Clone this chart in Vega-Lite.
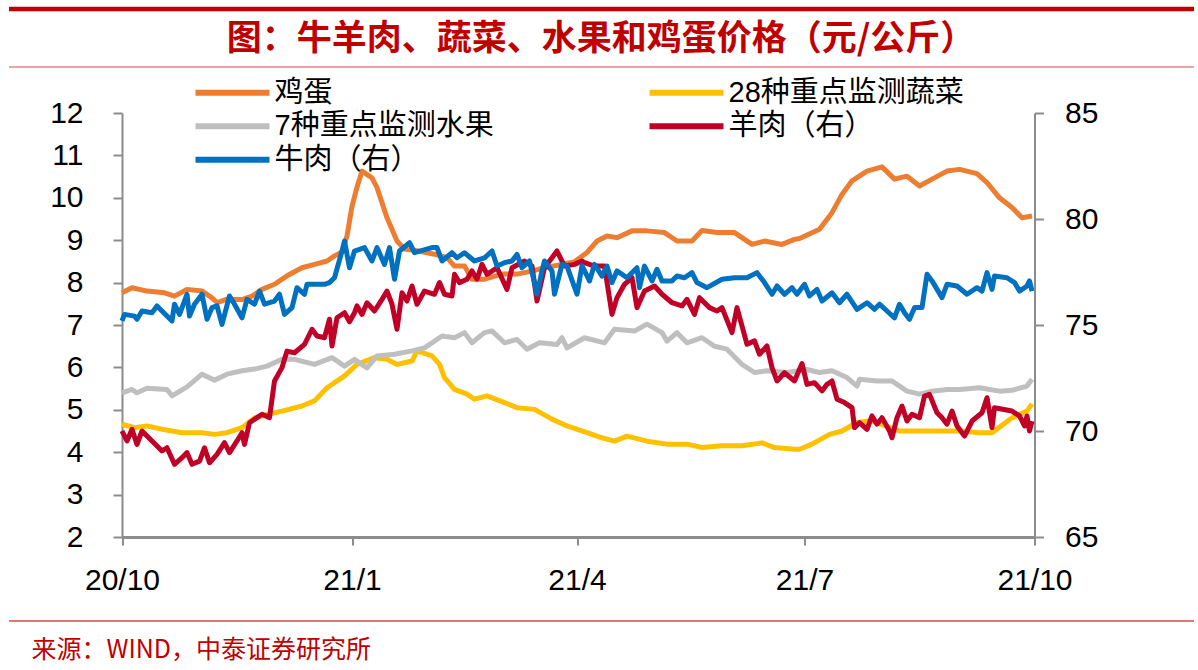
{
  "$schema": "https://vega.github.io/schema/vega-lite/v6.json",
  "padding": {"left": 8.5, "top": 8.5, "right": 0, "bottom": 12},
  "background": "#ffffff",
  "bounds": "flush",
  "spacing": 46.5,
  "resolve": {"scale": {"color": "independent"}},
  "datasets": {
    "left": [
      {"s": "egg", "d": "2020-10-01", "v": 7.76}, {"s": "egg", "d": "2020-10-05", "v": 7.88}, {"s": "egg", "d": "2020-10-11", "v": 7.80},
      {"s": "egg", "d": "2020-10-18", "v": 7.76}, {"s": "egg", "d": "2020-10-22", "v": 7.68}, {"s": "egg", "d": "2020-10-27", "v": 7.84},
      {"s": "egg", "d": "2020-11-02", "v": 7.80}, {"s": "egg", "d": "2020-11-06", "v": 7.64}, {"s": "egg", "d": "2020-11-08", "v": 7.53},
      {"s": "egg", "d": "2020-11-12", "v": 7.61}, {"s": "egg", "d": "2020-11-18", "v": 7.60}, {"s": "egg", "d": "2020-11-22", "v": 7.68},
      {"s": "egg", "d": "2020-11-26", "v": 7.84}, {"s": "egg", "d": "2020-12-01", "v": 7.96}, {"s": "egg", "d": "2020-12-06", "v": 8.16},
      {"s": "egg", "d": "2020-12-12", "v": 8.35}, {"s": "egg", "d": "2020-12-17", "v": 8.43}, {"s": "egg", "d": "2020-12-22", "v": 8.51},
      {"s": "egg", "d": "2020-12-25", "v": 8.63}, {"s": "egg", "d": "2020-12-28", "v": 8.72}, {"s": "egg", "d": "2020-12-30", "v": 9.10},
      {"s": "egg", "d": "2021-01-01", "v": 9.80}, {"s": "egg", "d": "2021-01-03", "v": 10.25}, {"s": "egg", "d": "2021-01-05", "v": 10.63},
      {"s": "egg", "d": "2021-01-09", "v": 10.47}, {"s": "egg", "d": "2021-01-11", "v": 10.24}, {"s": "egg", "d": "2021-01-15", "v": 9.53},
      {"s": "egg", "d": "2021-01-19", "v": 8.98}, {"s": "egg", "d": "2021-01-22", "v": 8.79}, {"s": "egg", "d": "2021-01-27", "v": 8.75},
      {"s": "egg", "d": "2021-02-03", "v": 8.67}, {"s": "egg", "d": "2021-02-08", "v": 8.59}, {"s": "egg", "d": "2021-02-11", "v": 8.39},
      {"s": "egg", "d": "2021-02-15", "v": 8.39}, {"s": "egg", "d": "2021-02-18", "v": 8.08}, {"s": "egg", "d": "2021-02-23", "v": 8.08},
      {"s": "egg", "d": "2021-03-02", "v": 8.20}, {"s": "egg", "d": "2021-03-08", "v": 8.20}, {"s": "egg", "d": "2021-03-14", "v": 8.27},
      {"s": "egg", "d": "2021-03-19", "v": 8.35}, {"s": "egg", "d": "2021-03-26", "v": 8.43}, {"s": "egg", "d": "2021-03-31", "v": 8.49},
      {"s": "egg", "d": "2021-04-05", "v": 8.71}, {"s": "egg", "d": "2021-04-09", "v": 8.98}, {"s": "egg", "d": "2021-04-13", "v": 9.10},
      {"s": "egg", "d": "2021-04-17", "v": 9.06}, {"s": "egg", "d": "2021-04-23", "v": 9.22}, {"s": "egg", "d": "2021-04-29", "v": 9.22},
      {"s": "egg", "d": "2021-05-06", "v": 9.18}, {"s": "egg", "d": "2021-05-11", "v": 8.98}, {"s": "egg", "d": "2021-05-17", "v": 8.98},
      {"s": "egg", "d": "2021-05-21", "v": 9.23}, {"s": "egg", "d": "2021-05-27", "v": 9.18}, {"s": "egg", "d": "2021-06-03", "v": 9.18},
      {"s": "egg", "d": "2021-06-10", "v": 8.90}, {"s": "egg", "d": "2021-06-15", "v": 8.98}, {"s": "egg", "d": "2021-06-22", "v": 8.90},
      {"s": "egg", "d": "2021-06-27", "v": 9.02}, {"s": "egg", "d": "2021-06-29", "v": 9.04}, {"s": "egg", "d": "2021-07-07", "v": 9.26},
      {"s": "egg", "d": "2021-07-12", "v": 9.65}, {"s": "egg", "d": "2021-07-16", "v": 10.08}, {"s": "egg", "d": "2021-07-20", "v": 10.40},
      {"s": "egg", "d": "2021-07-26", "v": 10.63}, {"s": "egg", "d": "2021-08-01", "v": 10.73}, {"s": "egg", "d": "2021-08-06", "v": 10.44},
      {"s": "egg", "d": "2021-08-11", "v": 10.51}, {"s": "egg", "d": "2021-08-16", "v": 10.28}, {"s": "egg", "d": "2021-08-21", "v": 10.44},
      {"s": "egg", "d": "2021-08-27", "v": 10.63}, {"s": "egg", "d": "2021-09-01", "v": 10.67}, {"s": "egg", "d": "2021-09-08", "v": 10.57},
      {"s": "egg", "d": "2021-09-12", "v": 10.36}, {"s": "egg", "d": "2021-09-17", "v": 10.00}, {"s": "egg", "d": "2021-09-22", "v": 9.77},
      {"s": "egg", "d": "2021-09-26", "v": 9.53}, {"s": "egg", "d": "2021-09-30", "v": 9.57},

      {"s": "veg", "d": "2020-10-01", "v": 4.66}, {"s": "veg", "d": "2020-10-06", "v": 4.58}, {"s": "veg", "d": "2020-10-11", "v": 4.62},
      {"s": "veg", "d": "2020-10-17", "v": 4.54}, {"s": "veg", "d": "2020-10-25", "v": 4.46}, {"s": "veg", "d": "2020-11-02", "v": 4.46},
      {"s": "veg", "d": "2020-11-07", "v": 4.42}, {"s": "veg", "d": "2020-11-12", "v": 4.46}, {"s": "veg", "d": "2020-11-18", "v": 4.58},
      {"s": "veg", "d": "2020-11-23", "v": 4.81}, {"s": "veg", "d": "2020-11-28", "v": 4.89}, {"s": "veg", "d": "2020-12-04", "v": 4.97},
      {"s": "veg", "d": "2020-12-12", "v": 5.09}, {"s": "veg", "d": "2020-12-17", "v": 5.21}, {"s": "veg", "d": "2020-12-22", "v": 5.52},
      {"s": "veg", "d": "2020-12-29", "v": 5.80}, {"s": "veg", "d": "2021-01-03", "v": 6.07}, {"s": "veg", "d": "2021-01-10", "v": 6.23},
      {"s": "veg", "d": "2021-01-15", "v": 6.19}, {"s": "veg", "d": "2021-01-19", "v": 6.07}, {"s": "veg", "d": "2021-01-25", "v": 6.15},
      {"s": "veg", "d": "2021-01-27", "v": 6.39}, {"s": "veg", "d": "2021-02-02", "v": 6.27}, {"s": "veg", "d": "2021-02-05", "v": 6.07},
      {"s": "veg", "d": "2021-02-07", "v": 5.76}, {"s": "veg", "d": "2021-02-11", "v": 5.48}, {"s": "veg", "d": "2021-02-16", "v": 5.37},
      {"s": "veg", "d": "2021-02-19", "v": 5.25}, {"s": "veg", "d": "2021-02-24", "v": 5.33}, {"s": "veg", "d": "2021-03-03", "v": 5.17},
      {"s": "veg", "d": "2021-03-08", "v": 5.05}, {"s": "veg", "d": "2021-03-15", "v": 5.01}, {"s": "veg", "d": "2021-03-22", "v": 4.78},
      {"s": "veg", "d": "2021-03-28", "v": 4.62}, {"s": "veg", "d": "2021-04-05", "v": 4.46}, {"s": "veg", "d": "2021-04-11", "v": 4.34},
      {"s": "veg", "d": "2021-04-16", "v": 4.26}, {"s": "veg", "d": "2021-04-21", "v": 4.38}, {"s": "veg", "d": "2021-04-29", "v": 4.26},
      {"s": "veg", "d": "2021-05-07", "v": 4.19}, {"s": "veg", "d": "2021-05-15", "v": 4.19}, {"s": "veg", "d": "2021-05-21", "v": 4.11},
      {"s": "veg", "d": "2021-05-29", "v": 4.15}, {"s": "veg", "d": "2021-06-06", "v": 4.15}, {"s": "veg", "d": "2021-06-14", "v": 4.22},
      {"s": "veg", "d": "2021-06-19", "v": 4.11}, {"s": "veg", "d": "2021-06-27", "v": 4.07}, {"s": "veg", "d": "2021-06-29", "v": 4.07},
      {"s": "veg", "d": "2021-07-04", "v": 4.19}, {"s": "veg", "d": "2021-07-11", "v": 4.42}, {"s": "veg", "d": "2021-07-16", "v": 4.50},
      {"s": "veg", "d": "2021-07-22", "v": 4.70}, {"s": "veg", "d": "2021-07-28", "v": 4.74}, {"s": "veg", "d": "2021-08-08", "v": 4.50},
      {"s": "veg", "d": "2021-08-19", "v": 4.50}, {"s": "veg", "d": "2021-09-01", "v": 4.50}, {"s": "veg", "d": "2021-09-09", "v": 4.46},
      {"s": "veg", "d": "2021-09-14", "v": 4.46}, {"s": "veg", "d": "2021-09-22", "v": 4.81}, {"s": "veg", "d": "2021-09-28", "v": 4.97},
      {"s": "veg", "d": "2021-09-30", "v": 5.14},

      {"s": "fruit", "d": "2020-10-01", "v": 5.40}, {"s": "fruit", "d": "2020-10-05", "v": 5.48}, {"s": "fruit", "d": "2020-10-07", "v": 5.40},
      {"s": "fruit", "d": "2020-10-11", "v": 5.51}, {"s": "fruit", "d": "2020-10-19", "v": 5.48}, {"s": "fruit", "d": "2020-10-21", "v": 5.33},
      {"s": "fruit", "d": "2020-10-27", "v": 5.54}, {"s": "fruit", "d": "2020-11-02", "v": 5.84}, {"s": "fruit", "d": "2020-11-07", "v": 5.70},
      {"s": "fruit", "d": "2020-11-12", "v": 5.84}, {"s": "fruit", "d": "2020-11-18", "v": 5.92}, {"s": "fruit", "d": "2020-11-23", "v": 5.96},
      {"s": "fruit", "d": "2020-11-28", "v": 6.03}, {"s": "fruit", "d": "2020-12-04", "v": 6.19}, {"s": "fruit", "d": "2020-12-09", "v": 6.19},
      {"s": "fruit", "d": "2020-12-17", "v": 6.07}, {"s": "fruit", "d": "2020-12-24", "v": 6.23}, {"s": "fruit", "d": "2020-12-29", "v": 6.03},
      {"s": "fruit", "d": "2021-01-02", "v": 6.19}, {"s": "fruit", "d": "2021-01-07", "v": 5.99}, {"s": "fruit", "d": "2021-01-11", "v": 6.27},
      {"s": "fruit", "d": "2021-01-18", "v": 6.31}, {"s": "fruit", "d": "2021-01-25", "v": 6.39}, {"s": "fruit", "d": "2021-01-30", "v": 6.46},
      {"s": "fruit", "d": "2021-02-06", "v": 6.74}, {"s": "fruit", "d": "2021-02-11", "v": 6.70}, {"s": "fruit", "d": "2021-02-15", "v": 6.82},
      {"s": "fruit", "d": "2021-02-18", "v": 6.58}, {"s": "fruit", "d": "2021-02-23", "v": 6.82}, {"s": "fruit", "d": "2021-02-26", "v": 6.86},
      {"s": "fruit", "d": "2021-03-03", "v": 6.58}, {"s": "fruit", "d": "2021-03-08", "v": 6.66}, {"s": "fruit", "d": "2021-03-12", "v": 6.43},
      {"s": "fruit", "d": "2021-03-17", "v": 6.58}, {"s": "fruit", "d": "2021-03-24", "v": 6.54}, {"s": "fruit", "d": "2021-03-26", "v": 6.70},
      {"s": "fruit", "d": "2021-03-28", "v": 6.46}, {"s": "fruit", "d": "2021-04-04", "v": 6.70}, {"s": "fruit", "d": "2021-04-12", "v": 6.58},
      {"s": "fruit", "d": "2021-04-16", "v": 6.90}, {"s": "fruit", "d": "2021-04-24", "v": 6.86}, {"s": "fruit", "d": "2021-04-29", "v": 7.02},
      {"s": "fruit", "d": "2021-05-05", "v": 6.82}, {"s": "fruit", "d": "2021-05-07", "v": 6.62}, {"s": "fruit", "d": "2021-05-11", "v": 6.82},
      {"s": "fruit", "d": "2021-05-15", "v": 6.58}, {"s": "fruit", "d": "2021-05-21", "v": 6.70}, {"s": "fruit", "d": "2021-05-26", "v": 6.50},
      {"s": "fruit", "d": "2021-05-31", "v": 6.43}, {"s": "fruit", "d": "2021-06-06", "v": 6.07}, {"s": "fruit", "d": "2021-06-11", "v": 5.88},
      {"s": "fruit", "d": "2021-06-16", "v": 5.92}, {"s": "fruit", "d": "2021-06-24", "v": 5.88}, {"s": "fruit", "d": "2021-07-02", "v": 5.95},
      {"s": "fruit", "d": "2021-07-07", "v": 5.88}, {"s": "fruit", "d": "2021-07-12", "v": 5.92}, {"s": "fruit", "d": "2021-07-18", "v": 5.76},
      {"s": "fruit", "d": "2021-07-22", "v": 5.56}, {"s": "fruit", "d": "2021-07-23", "v": 5.72}, {"s": "fruit", "d": "2021-07-30", "v": 5.68},
      {"s": "fruit", "d": "2021-08-05", "v": 5.68}, {"s": "fruit", "d": "2021-08-11", "v": 5.44}, {"s": "fruit", "d": "2021-08-16", "v": 5.37},
      {"s": "fruit", "d": "2021-08-21", "v": 5.44}, {"s": "fruit", "d": "2021-08-27", "v": 5.48}, {"s": "fruit", "d": "2021-09-01", "v": 5.48},
      {"s": "fruit", "d": "2021-09-09", "v": 5.52}, {"s": "fruit", "d": "2021-09-17", "v": 5.44}, {"s": "fruit", "d": "2021-09-22", "v": 5.46},
      {"s": "fruit", "d": "2021-09-28", "v": 5.56}, {"s": "fruit", "d": "2021-09-30", "v": 5.72}
    ],
    "mutton": [
      {"d": "2020-10-01", "v": 70.00}, {"d": "2020-10-03", "v": 69.53}, {"d": "2020-10-05", "v": 70.08}, {"d": "2020-10-07", "v": 69.37},
      {"d": "2020-10-09", "v": 70.00}, {"d": "2020-10-13", "v": 69.53}, {"d": "2020-10-17", "v": 69.06}, {"d": "2020-10-19", "v": 69.21},
      {"d": "2020-10-22", "v": 68.43}, {"d": "2020-10-25", "v": 68.74}, {"d": "2020-10-27", "v": 68.98}, {"d": "2020-10-29", "v": 68.43},
      {"d": "2020-11-01", "v": 68.58}, {"d": "2020-11-03", "v": 69.21}, {"d": "2020-11-05", "v": 68.50}, {"d": "2020-11-08", "v": 68.90},
      {"d": "2020-11-11", "v": 69.45}, {"d": "2020-11-13", "v": 68.98}, {"d": "2020-11-16", "v": 69.53}, {"d": "2020-11-18", "v": 69.92},
      {"d": "2020-11-19", "v": 69.37}, {"d": "2020-11-21", "v": 70.39}, {"d": "2020-11-24", "v": 70.63}, {"d": "2020-11-26", "v": 70.79},
      {"d": "2020-11-29", "v": 70.63}, {"d": "2020-12-01", "v": 72.36}, {"d": "2020-12-04", "v": 72.99}, {"d": "2020-12-06", "v": 73.77},
      {"d": "2020-12-09", "v": 73.69}, {"d": "2020-12-13", "v": 74.09}, {"d": "2020-12-16", "v": 74.80}, {"d": "2020-12-18", "v": 74.48},
      {"d": "2020-12-21", "v": 74.40}, {"d": "2020-12-23", "v": 75.27}, {"d": "2020-12-24", "v": 74.01}, {"d": "2020-12-26", "v": 75.34},
      {"d": "2020-12-29", "v": 75.58}, {"d": "2020-12-31", "v": 75.15}, {"d": "2021-01-02", "v": 75.58}, {"d": "2021-01-03", "v": 75.90},
      {"d": "2021-01-05", "v": 75.50}, {"d": "2021-01-07", "v": 76.05}, {"d": "2021-01-10", "v": 75.66}, {"d": "2021-01-13", "v": 76.21},
      {"d": "2021-01-15", "v": 76.60}, {"d": "2021-01-17", "v": 75.98}, {"d": "2021-01-19", "v": 74.80}, {"d": "2021-01-21", "v": 76.52},
      {"d": "2021-01-23", "v": 76.13}, {"d": "2021-01-25", "v": 76.84}, {"d": "2021-01-27", "v": 75.98}, {"d": "2021-01-30", "v": 76.60},
      {"d": "2021-02-03", "v": 76.45}, {"d": "2021-02-05", "v": 77.00}, {"d": "2021-02-07", "v": 76.45}, {"d": "2021-02-10", "v": 76.37},
      {"d": "2021-02-11", "v": 77.39}, {"d": "2021-02-13", "v": 77.00}, {"d": "2021-02-16", "v": 77.16}, {"d": "2021-02-18", "v": 77.55},
      {"d": "2021-02-20", "v": 77.16}, {"d": "2021-02-22", "v": 77.86}, {"d": "2021-02-24", "v": 77.39}, {"d": "2021-02-28", "v": 77.70},
      {"d": "2021-03-04", "v": 76.68}, {"d": "2021-03-06", "v": 77.70}, {"d": "2021-03-11", "v": 78.02}, {"d": "2021-03-14", "v": 77.78},
      {"d": "2021-03-16", "v": 76.13}, {"d": "2021-03-19", "v": 77.70}, {"d": "2021-03-24", "v": 78.49}, {"d": "2021-03-27", "v": 77.78},
      {"d": "2021-03-31", "v": 77.86}, {"d": "2021-04-03", "v": 78.02}, {"d": "2021-04-04", "v": 77.94}, {"d": "2021-04-08", "v": 77.78},
      {"d": "2021-04-12", "v": 77.78}, {"d": "2021-04-15", "v": 75.50}, {"d": "2021-04-17", "v": 76.29}, {"d": "2021-04-20", "v": 76.92},
      {"d": "2021-04-23", "v": 77.23}, {"d": "2021-04-25", "v": 75.82}, {"d": "2021-04-28", "v": 76.60}, {"d": "2021-05-02", "v": 76.84},
      {"d": "2021-05-05", "v": 76.45}, {"d": "2021-05-09", "v": 76.05}, {"d": "2021-05-13", "v": 75.90}, {"d": "2021-05-15", "v": 76.21},
      {"d": "2021-05-18", "v": 75.50}, {"d": "2021-05-20", "v": 76.29}, {"d": "2021-05-24", "v": 75.82}, {"d": "2021-05-27", "v": 75.66},
      {"d": "2021-05-29", "v": 75.82}, {"d": "2021-06-02", "v": 74.64}, {"d": "2021-06-04", "v": 75.82}, {"d": "2021-06-08", "v": 74.09},
      {"d": "2021-06-11", "v": 74.25}, {"d": "2021-06-13", "v": 73.62}, {"d": "2021-06-16", "v": 74.01}, {"d": "2021-06-18", "v": 72.99},
      {"d": "2021-06-20", "v": 72.36}, {"d": "2021-06-23", "v": 72.75}, {"d": "2021-06-27", "v": 72.36}, {"d": "2021-06-30", "v": 73.18},
      {"d": "2021-07-02", "v": 72.20}, {"d": "2021-07-05", "v": 72.28}, {"d": "2021-07-08", "v": 71.89}, {"d": "2021-07-10", "v": 72.20},
      {"d": "2021-07-12", "v": 72.36}, {"d": "2021-07-14", "v": 71.50}, {"d": "2021-07-17", "v": 71.34}, {"d": "2021-07-20", "v": 71.10},
      {"d": "2021-07-21", "v": 70.16}, {"d": "2021-07-23", "v": 70.39}, {"d": "2021-07-26", "v": 70.08}, {"d": "2021-07-28", "v": 70.71},
      {"d": "2021-07-30", "v": 70.32}, {"d": "2021-08-01", "v": 70.63}, {"d": "2021-08-04", "v": 70.00}, {"d": "2021-08-05", "v": 69.68},
      {"d": "2021-08-07", "v": 70.63}, {"d": "2021-08-09", "v": 71.18}, {"d": "2021-08-11", "v": 70.47}, {"d": "2021-08-13", "v": 70.79},
      {"d": "2021-08-16", "v": 70.63}, {"d": "2021-08-18", "v": 71.65}, {"d": "2021-08-20", "v": 71.73}, {"d": "2021-08-23", "v": 70.86},
      {"d": "2021-08-25", "v": 70.63}, {"d": "2021-08-27", "v": 70.32}, {"d": "2021-08-29", "v": 70.94}, {"d": "2021-08-31", "v": 70.24},
      {"d": "2021-09-03", "v": 69.76}, {"d": "2021-09-06", "v": 70.47}, {"d": "2021-09-10", "v": 70.86}, {"d": "2021-09-12", "v": 71.57},
      {"d": "2021-09-14", "v": 70.16}, {"d": "2021-09-15", "v": 71.10}, {"d": "2021-09-22", "v": 70.94}, {"d": "2021-09-25", "v": 70.71},
      {"d": "2021-09-27", "v": 70.24}, {"d": "2021-09-28", "v": 70.71}, {"d": "2021-09-29", "v": 70.00}, {"d": "2021-09-30", "v": 70.47}
    ],
    "beef": [
      {"d": "2020-10-01", "v": 75.19}, {"d": "2020-10-02", "v": 75.50}, {"d": "2020-10-06", "v": 75.42}, {"d": "2020-10-07", "v": 75.27},
      {"d": "2020-10-09", "v": 75.66}, {"d": "2020-10-13", "v": 75.58}, {"d": "2020-10-15", "v": 75.90}, {"d": "2020-10-17", "v": 75.66},
      {"d": "2020-10-21", "v": 75.19}, {"d": "2020-10-22", "v": 75.98}, {"d": "2020-10-24", "v": 75.50}, {"d": "2020-10-27", "v": 76.45},
      {"d": "2020-10-28", "v": 75.42}, {"d": "2020-10-30", "v": 75.98}, {"d": "2020-11-02", "v": 76.45}, {"d": "2020-11-04", "v": 75.27},
      {"d": "2020-11-06", "v": 75.82}, {"d": "2020-11-08", "v": 75.90}, {"d": "2020-11-10", "v": 75.03}, {"d": "2020-11-13", "v": 76.37},
      {"d": "2020-11-15", "v": 75.98}, {"d": "2020-11-18", "v": 75.34}, {"d": "2020-11-20", "v": 76.21}, {"d": "2020-11-23", "v": 75.98},
      {"d": "2020-11-25", "v": 76.60}, {"d": "2020-11-27", "v": 75.98}, {"d": "2020-12-01", "v": 76.13}, {"d": "2020-12-03", "v": 76.45},
      {"d": "2020-12-05", "v": 75.50}, {"d": "2020-12-08", "v": 75.82}, {"d": "2020-12-10", "v": 76.76}, {"d": "2020-12-13", "v": 76.45},
      {"d": "2020-12-14", "v": 76.92}, {"d": "2020-12-21", "v": 76.92}, {"d": "2020-12-23", "v": 77.00}, {"d": "2020-12-25", "v": 77.23},
      {"d": "2020-12-28", "v": 78.49}, {"d": "2020-12-29", "v": 78.96}, {"d": "2020-12-31", "v": 77.70}, {"d": "2021-01-02", "v": 78.49},
      {"d": "2021-01-06", "v": 78.65}, {"d": "2021-01-09", "v": 78.02}, {"d": "2021-01-11", "v": 78.65}, {"d": "2021-01-14", "v": 77.86},
      {"d": "2021-01-16", "v": 78.65}, {"d": "2021-01-18", "v": 77.16}, {"d": "2021-01-20", "v": 78.49}, {"d": "2021-01-24", "v": 78.88},
      {"d": "2021-01-26", "v": 78.41}, {"d": "2021-02-02", "v": 78.65}, {"d": "2021-02-04", "v": 78.65}, {"d": "2021-02-06", "v": 78.02},
      {"d": "2021-02-10", "v": 78.41}, {"d": "2021-02-12", "v": 78.17}, {"d": "2021-02-15", "v": 78.41}, {"d": "2021-02-19", "v": 78.02},
      {"d": "2021-02-23", "v": 78.17}, {"d": "2021-02-26", "v": 78.49}, {"d": "2021-02-28", "v": 77.78}, {"d": "2021-03-03", "v": 77.94},
      {"d": "2021-03-06", "v": 78.02}, {"d": "2021-03-08", "v": 78.33}, {"d": "2021-03-10", "v": 77.70}, {"d": "2021-03-13", "v": 78.02},
      {"d": "2021-03-16", "v": 76.45}, {"d": "2021-03-18", "v": 77.55}, {"d": "2021-03-19", "v": 78.02}, {"d": "2021-03-22", "v": 77.55},
      {"d": "2021-03-23", "v": 76.45}, {"d": "2021-03-26", "v": 77.86}, {"d": "2021-03-28", "v": 77.78}, {"d": "2021-04-01", "v": 76.45},
      {"d": "2021-04-03", "v": 77.80}, {"d": "2021-04-06", "v": 77.08}, {"d": "2021-04-08", "v": 77.86}, {"d": "2021-04-11", "v": 77.31},
      {"d": "2021-04-13", "v": 77.78}, {"d": "2021-04-15", "v": 77.00}, {"d": "2021-04-17", "v": 77.55}, {"d": "2021-04-21", "v": 77.23},
      {"d": "2021-04-25", "v": 77.70}, {"d": "2021-04-26", "v": 76.76}, {"d": "2021-04-28", "v": 77.78}, {"d": "2021-05-01", "v": 77.08},
      {"d": "2021-05-03", "v": 77.63}, {"d": "2021-05-05", "v": 77.08}, {"d": "2021-05-09", "v": 77.08}, {"d": "2021-05-11", "v": 77.31},
      {"d": "2021-05-14", "v": 77.23}, {"d": "2021-05-17", "v": 77.47}, {"d": "2021-05-19", "v": 77.00}, {"d": "2021-05-23", "v": 76.76},
      {"d": "2021-05-29", "v": 77.16}, {"d": "2021-06-03", "v": 77.23}, {"d": "2021-06-08", "v": 77.23}, {"d": "2021-06-12", "v": 77.47},
      {"d": "2021-06-15", "v": 77.00}, {"d": "2021-06-18", "v": 76.45}, {"d": "2021-06-20", "v": 76.84}, {"d": "2021-06-23", "v": 76.45},
      {"d": "2021-06-26", "v": 76.76}, {"d": "2021-06-28", "v": 76.45}, {"d": "2021-07-01", "v": 76.92}, {"d": "2021-07-03", "v": 76.37},
      {"d": "2021-07-06", "v": 76.68}, {"d": "2021-07-08", "v": 76.13}, {"d": "2021-07-12", "v": 76.52}, {"d": "2021-07-15", "v": 76.05},
      {"d": "2021-07-18", "v": 76.45}, {"d": "2021-07-22", "v": 75.74}, {"d": "2021-07-26", "v": 76.05}, {"d": "2021-07-29", "v": 75.74},
      {"d": "2021-07-31", "v": 75.98}, {"d": "2021-08-03", "v": 75.66}, {"d": "2021-08-06", "v": 75.34}, {"d": "2021-08-08", "v": 75.98},
      {"d": "2021-08-10", "v": 75.58}, {"d": "2021-08-12", "v": 75.27}, {"d": "2021-08-14", "v": 75.82}, {"d": "2021-08-17", "v": 75.82},
      {"d": "2021-08-19", "v": 77.39}, {"d": "2021-08-21", "v": 77.08}, {"d": "2021-08-25", "v": 76.29}, {"d": "2021-08-27", "v": 76.92},
      {"d": "2021-08-31", "v": 76.84}, {"d": "2021-09-04", "v": 76.45}, {"d": "2021-09-08", "v": 76.76}, {"d": "2021-09-10", "v": 76.60},
      {"d": "2021-09-12", "v": 77.47}, {"d": "2021-09-14", "v": 76.68}, {"d": "2021-09-15", "v": 77.31}, {"d": "2021-09-20", "v": 77.23},
      {"d": "2021-09-23", "v": 77.00}, {"d": "2021-09-25", "v": 76.60}, {"d": "2021-09-28", "v": 76.84}, {"d": "2021-09-29", "v": 77.08},
      {"d": "2021-09-30", "v": 76.60}
    ]
  },
  "vconcat": [
    {
      "width": 1185,
      "height": 58,
      "data": {"values": [{"t": "图：牛羊肉、蔬菜、水果和鸡蛋价格（元/公斤）"}]},
      "mark": {"type": "text", "font": "Noto Sans CJK SC", "fontSize": 35, "fontWeight": "bold", "color": "#C00000", "dx": 0, "dy": 1.5},
      "encoding": {
        "text": {"field": "t"},
        "x": {"datum": 0.5, "type": "quantitative", "scale": {"domain": [0, 1]}, "axis": null},
        "y": {"datum": 0.5, "type": "quantitative", "scale": {"domain": [0, 1]},
              "axis": {"values": [0, 1], "grid": true, "domain": false, "ticks": false, "labels": false, "title": null,
                       "gridColor": {"condition": {"test": "datum.value == 1", "value": "#C00000"}, "value": "#EBA3A3"},
                       "gridWidth": {"condition": {"test": "datum.value == 1", "value": 4.5}, "value": 2}}}
      }
    },
    {
      "width": 1026,
      "height": 424,
      "layer": [
        {
          "data": {"name": "left"},
          "mark": {"type": "line", "strokeWidth": 5, "strokeJoin": "round"},
          "encoding": {
            "x": {"field": "d", "type": "temporal",
                  "scale": {"type": "utc", "domain": [{"year": 2020, "month": 10, "date": 1, "utc": true}, {"year": 2021, "month": 10, "date": 1, "utc": true}], "range": [113.5, 1026]},
                  "axis": {"orient": "bottom", "format": "%y/%-m",
                           "values": [{"year": 2020, "month": 10, "date": 1, "utc": true}, {"year": 2021, "month": 1, "date": 1, "utc": true}, {"year": 2021, "month": 4, "date": 1, "utc": true}, {"year": 2021, "month": 7, "date": 1, "utc": true}, {"year": 2021, "month": 10, "date": 1, "utc": true}],
                           "domainColor": "#8C8C8C", "domainWidth": 3, "tickColor": "#8C8C8C", "tickWidth": 2, "tickSize": 8,
                           "labelFont": "Liberation Sans", "labelFontSize": 30, "labelColor": "#000000", "labelPadding": 20,
                           "labelOverlap": false, "labelFlush": false, "grid": false, "title": null}},
            "y": {"field": "v", "type": "quantitative", "scale": {"domain": [2, 12]},
                  "axis": {"orient": "left", "offset": -113.5, "values": [2, 3, 4, 5, 6, 7, 8, 9, 10, 11, 12],
                           "domainColor": "#8C8C8C", "domainWidth": 2, "tickColor": "#8C8C8C", "tickWidth": 2, "tickSize": 9,
                           "labelFont": "Liberation Sans", "labelFontSize": 30, "labelColor": "#000000", "labelPadding": 30,
                           "grid": false, "title": null}},
            "color": {"field": "s", "type": "nominal",
                      "scale": {"domain": ["egg", "fruit", "beef", "veg", "mutton"], "range": ["#ED7D31", "#BFBFBF", "#0070C0", "#FFC000", "#C00027"]},
                      "legend": {"orient": "none", "legendX": 184, "legendY": -35.3, "columns": 2, "columnPadding": 152, "rowPadding": 3.5, "clipHeight": 30,
                                 "symbolType": "stroke", "symbolSize": 5476, "symbolStrokeWidth": 6, "padding": 0,
                                 "labelFont": "Liberation Sans, Noto Sans CJK SC", "labelFontSize": 29, "labelColor": "#000000", "labelOffset": 2, "labelLimit": 0,
                                 "title": null,
                                 "labelExpr": "datum.label == 'egg' ? '鸡蛋' : datum.label == 'veg' ? '28种重点监测蔬菜' : datum.label == 'fruit' ? '7种重点监测水果' : datum.label == 'mutton' ? '羊肉（右）' : '牛肉（右）'"}}
          }
        },
        {
          "data": {"name": "mutton"},
          "mark": {"type": "line", "strokeWidth": 5, "strokeJoin": "round"},
          "encoding": {
            "x": {"field": "d", "type": "temporal"},
            "y": {"field": "v", "type": "quantitative", "scale": {"domain": [65, 85]},
                  "axis": {"orient": "right", "values": [65, 70, 75, 80, 85],
                           "domainColor": "#8C8C8C", "domainWidth": 2, "tickColor": "#8C8C8C", "tickWidth": 2, "tickSize": 9,
                           "labelFont": "Liberation Sans", "labelFontSize": 30, "labelColor": "#000000", "labelPadding": 21,
                           "grid": false, "title": null}},
            "color": {"datum": "mutton", "type": "nominal"}
          }
        },
        {
          "data": {"name": "beef"},
          "mark": {"type": "line", "strokeWidth": 5, "strokeJoin": "round"},
          "encoding": {
            "x": {"field": "d", "type": "temporal"},
            "y": {"field": "v", "type": "quantitative", "scale": {"domain": [65, 85]}, "axis": null},
            "color": {"datum": "beef", "type": "nominal"}
          }
        }
      ],
      "resolve": {"scale": {"y": "independent"}}
    },
    {
      "width": 1185,
      "height": 60,
      "data": {"values": [{"t": "来源：WIND，中泰证券研究所"}]},
      "mark": {"type": "text", "align": "left", "font": "Noto Sans CJK SC", "fontSize": 25, "color": "#C00000", "dx": 23, "dy": 36},
      "encoding": {
        "text": {"field": "t"},
        "x": {"datum": 0, "type": "quantitative", "scale": {"domain": [0, 1]}, "axis": null},
        "y": {"datum": 0.5, "type": "quantitative", "scale": {"domain": [0, 1]},
              "axis": {"values": [0.3833], "grid": true, "domain": false, "ticks": false, "labels": false, "title": null,
                       "gridColor": "#D44A4A", "gridWidth": 1.5}}
      }
    }
  ],
  "config": {
    "view": {"stroke": null},
    "font": "Liberation Sans"
  }
}
